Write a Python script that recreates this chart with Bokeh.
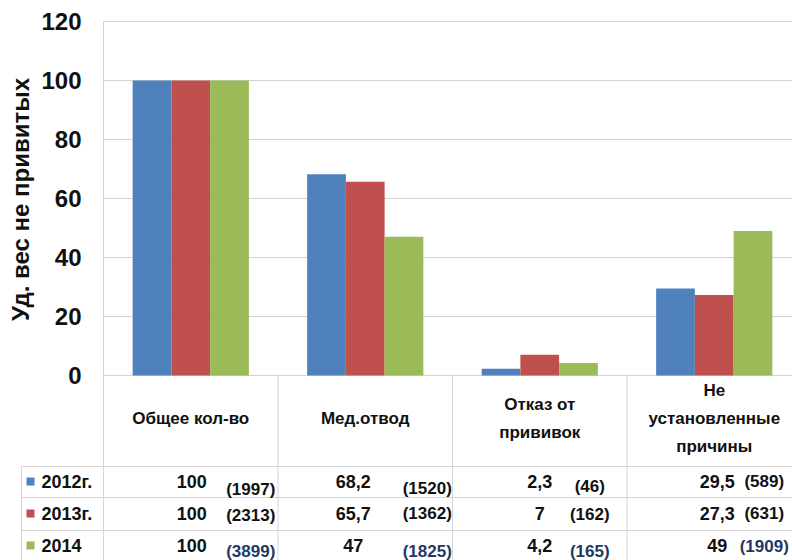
from math import pi

from bokeh.plotting import figure
from bokeh.models import Range1d
from bokeh.core.properties import value
from bokeh.embed import file_html
from bokeh.resources import INLINE

# ---- data -------------------------------------------------------------
categories = ["Общее кол-во", "Мед.отвод", "Отказ от прививок", "Не установленные причины"]
header_lines = [["Общее кол-во"], ["Мед.отвод"], ["Отказ от", "прививок"],
                ["Не", "установленные", "причины"]]
years = ["2012г.", "2013г.", "2014"]
share_2012 = [100, 68.2, 2.3, 29.5]
share_2013 = [100, 65.7, 7, 27.3]
share_2014 = [100, 47, 4.2, 49]
count_2012 = [1997, 1520, 46, 589]
count_2013 = [2313, 1362, 162, 631]
count_2014 = [3899, 1825, 165, 1909]
y_ticks = [0, 20, 40, 60, 80, 100, 120]
y_title = "Уд. вес не привитых"

shares = [share_2012, share_2013, share_2014]
counts = [count_2012, count_2013, count_2014]
colors = ["#4F81BD", "#C0504D", "#9BBB59"]
count_colors = ["#111111", "#111111", "#1F3864"]

# ---- layout (pixels of the 792x560 canvas) ------------------------------
W, H = 792, 560
X0_PX, COL_PX = 103, 174.5        # left edge of the first column, column width
Y0_PX, PX_PER_UNIT = 375, 2.95    # baseline of the bars, pixels per percent
FONT = "Liberation Sans"
GRID = "#D4D4D4"
INK = "#111111"


def xs(px):
    return (px - X0_PX) / COL_PX


def ys(py):
    return (Y0_PX - py) / PX_PER_UNIT


p = figure(width=W, height=H,
           x_range=Range1d(xs(0), xs(W)), y_range=Range1d(ys(H), ys(0)),
           x_axis_location=None, y_axis_location=None,
           output_backend="svg", toolbar_location=None, min_border=0)
p.grid.visible = False
p.outline_line_color = None
p.background_fill_color = "white"
p.border_fill_color = "white"

# horizontal gridlines of the value axis
p.segment(x0=[0] * len(y_ticks), x1=[xs(W)] * len(y_ticks), y0=y_ticks, y1=y_ticks,
          line_color=GRID, line_width=1)

# clustered bars
bar_w = 0.222
offsets = [-bar_w, 0, bar_w]
n = len(categories)
for k in range(3):
    p.vbar(x=[i + 0.5 + offsets[k] for i in range(n)], top=shares[k], bottom=0,
           width=bar_w, fill_color=colors[k], line_color=None)

# value axis tick labels and title
p.text(x=[xs(81)] * len(y_ticks), y=y_ticks, text=[str(t) for t in y_ticks],
       text_align="right", text_baseline="middle",
       text_font=value(FONT), text_font_style="bold", text_font_size="24px",
       text_color=INK)
p.text(x=[xs(20)], y=[ys(199)], text=[y_title], angle=pi / 2,
       text_align="center", text_baseline="middle",
       text_font=value(FONT), text_font_style="bold", text_font_size="24px",
       text_color=INK)

# data table under the chart
row_lines_px = [466, 497, 530]
p.segment(x0=[xs(21)] * 3, x1=[xs(W)] * 3, y0=[ys(v) for v in row_lines_px],
          y1=[ys(v) for v in row_lines_px], line_color=GRID, line_width=1)
p.segment(x0=[xs(21), 0], x1=[xs(21), 0], y0=[ys(466), ys(21)], y1=[ys(H), ys(H)],
          line_color=GRID, line_width=1)
p.segment(x0=list(range(1, n)), x1=list(range(1, n)), y0=[0] * (n - 1),
          y1=[ys(H)] * (n - 1), line_color=GRID, line_width=1)

# column headers
hx, hy, ht = [], [], []
for i, lines in enumerate(header_lines):
    m = len(lines)
    for j, line in enumerate(lines):
        hx.append(i + 0.5)
        hy.append(ys(418 + (j - (m - 1) / 2) * 28))
        ht.append(line)
p.text(x=hx, y=hy, text=ht, text_align="center", text_baseline="middle",
       text_font=value(FONT), text_font_style="bold", text_font_size="17px",
       text_color=INK)

# rows: legend key, share and absolute count
row_y_px = [481, 513, 545]
share_dx = [1, -12, 0, 3]
count_dx = [60, 62, 50, 50]
count_dy = [[8, 7, 5, 0], [2, 0, 1, 0], [6, 6, 6, 1]]
for k in range(3):
    ry = ys(row_y_px[k])
    p.rect(x=[xs(30)], y=[ry], width=8, height=8, width_units="screen",
           height_units="screen", fill_color=colors[k], line_color=None)
    p.text(x=[xs(41)], y=[ry], text=[years[k]], text_align="left",
           text_baseline="middle", text_font=value(FONT), text_font_style="bold",
           text_font_size="18px", text_color=INK)
    p.text(x=[i + 0.5 + share_dx[i] / COL_PX for i in range(n)], y=[ry] * n,
           text=[f"{v:g}".replace(".", ",") for v in shares[k]],
           text_align="center", text_baseline="middle", text_font=value(FONT),
           text_font_style="bold", text_font_size="18px", text_color=INK)
    p.text(x=[i + 0.5 + count_dx[i] / COL_PX for i in range(n)],
           y=[ys(row_y_px[k] + count_dy[k][i]) for i in range(n)],
           text=[f"({c})" for c in counts[k]],
           text_align="center", text_baseline="middle", text_font=value(FONT),
           text_font_style="bold", text_font_size="17px", text_color=count_colors[k])

open("out.html", "w").write(file_html(p, INLINE))
